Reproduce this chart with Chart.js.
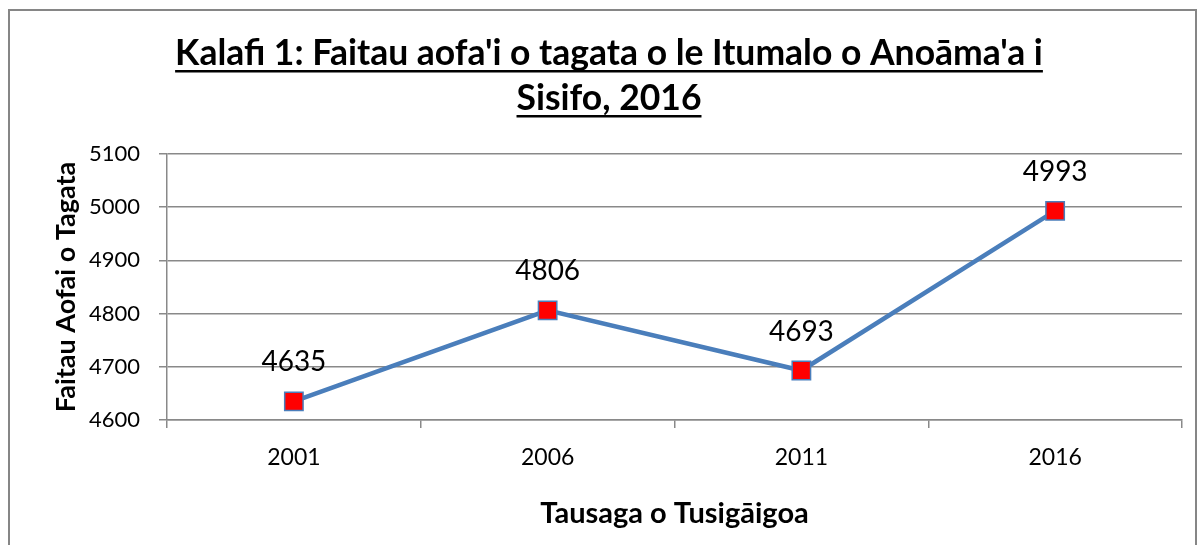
<!DOCTYPE html>
<html>
<head>
<meta charset="utf-8">
<script src="https://cdn.jsdelivr.net/npm/chart.js@4"></script>
<style>
  html, body { margin: 0; padding: 0; background: #fff; overflow: hidden; }
</style>
</head>
<body>
<canvas id="chart" width="1204" height="545"></canvas>
<script>
const years = ['2001', '2006', '2011', '2016'];
const population = [4635, 4806, 4693, 4993];
const titleLines = ["Kalafi 1: Faitau aofa'i o tagata o le Itumalo o Anoāma'a i", 'Sisifo, 2016'];
const yAxisTitle = 'Faitau Aofai o Tagata';
const xAxisTitle = 'Tausaga o Tusigāigoa';

const FONT = 'Lato';
const GRID = '#898989';

// border, underlined title and value labels drawn on the canvas
const extras = {
    id: 'extras',
    beforeDraw(chart) {
        const ctx = chart.ctx;
        ctx.save();
        ctx.fillStyle = '#fff';
        ctx.fillRect(0, 0, chart.width, chart.height);
        ctx.strokeStyle = '#868686';
        ctx.lineWidth = 2;
        ctx.strokeRect(9, 10, 1187, 600);
        ctx.restore();
    },
    afterDatasetsDraw(chart) {
        const ctx = chart.ctx;
        const meta = chart.getDatasetMeta(0);
        ctx.save();
        ctx.font = '28px ' + FONT;
        ctx.fillStyle = '#000';
        ctx.textAlign = 'center';
        ctx.textBaseline = 'alphabetic';
        meta.data.forEach((pt, i) => {
            ctx.fillText(String(population[i]), pt.x, pt.y - 30);
        });
        ctx.restore();
    },
    afterDraw(chart) {
        const ctx = chart.ctx;
        ctx.save();
        ctx.font = 'bold 35.5px ' + FONT;
        ctx.fillStyle = '#000';
        ctx.textAlign = 'center';
        ctx.textBaseline = 'alphabetic';
        const cx = 609;
        const baselines = [65, 110];
        titleLines.forEach((t, i) => {
            ctx.fillText(t, cx, baselines[i]);
            const w = ctx.measureText(t).width;
            ctx.fillRect(cx - w / 2, baselines[i] + 5, w, 2.5);
        });
        ctx.restore();
    }
};

new Chart(document.getElementById('chart'), {
    type: 'line',
    data: {
        labels: years,
        datasets: [{
            data: population,
            borderColor: '#4A7EBB',
            borderWidth: 4.5,
            pointStyle: 'rect',
            pointRadius: 13,
            pointHoverRadius: 13,
            pointBackgroundColor: '#FF0000',
            pointBorderColor: '#4A7EBB',
            pointBorderWidth: 1.5,
            tension: 0
        }]
    },
    options: {
        responsive: false,
        animation: false,
        devicePixelRatio: 1,
        layout: { padding: { top: 154, right: 22, left: 0, bottom: 0 } },
        plugins: {
            legend: { display: false },
            tooltip: { enabled: false },
            title: { display: false }
        },
        scales: {
            x: {
                type: 'category',
                offset: true,
                grid: {
                    offset: true,
                    drawOnChartArea: false,
                    drawTicks: true,
                    tickLength: 8,
                    color: GRID,
                    lineWidth: 1.5
                },
                border: { color: GRID, width: 1.5 },
                ticks: { color: '#000', font: { family: FONT, size: 23 }, padding: 16 },
                title: {
                    display: true,
                    text: xAxisTitle,
                    color: '#000',
                    font: { family: FONT, size: 29, weight: 'bold' },
                    padding: { top: 10, bottom: 14 }
                },
                afterFit(scale) { scale.height = 125; }
            },
            y: {
                min: 4600,
                max: 5100,
                ticks: {
                    stepSize: 100,
                    color: '#000',
                    font: { family: FONT, size: 22 },
                    padding: 19,
                    callback: (v) => String(v)
                },
                grid: { color: GRID, lineWidth: 1.5, tickLength: 8 },
                border: { color: GRID, width: 1.5 },
                title: {
                    display: true,
                    text: yAxisTitle,
                    color: '#000',
                    font: { family: FONT, size: 27, weight: 'bold' },
                    padding: { top: 50, bottom: 0 }
                },
                afterFit(scale) { scale.width = 167; }
            }
        }
    },
    plugins: [extras]
});
</script>
</body>
</html>
